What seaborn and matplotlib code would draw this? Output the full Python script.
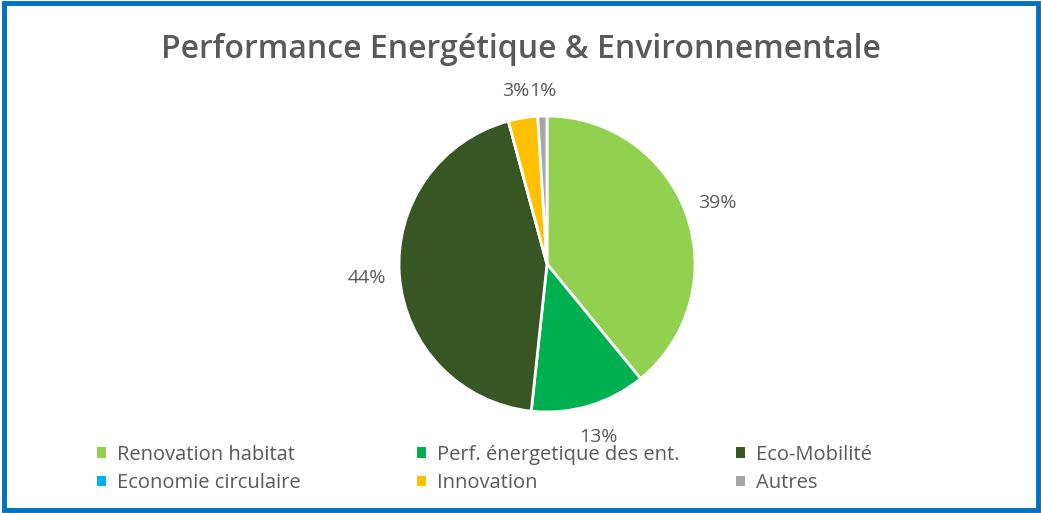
import numpy as np
import pandas as pd
import seaborn as sns
import matplotlib.pyplot as plt
from matplotlib.patches import Rectangle

categories = ["Renovation habitat", "Perf. énergetique des ent.", "Eco-Mobilité",
              "Economie circulaire", "Innovation", "Autres"]
shares = [39.1, 12.6, 44.1, 0.0, 3.2, 1.0]
pct_labels = ["39%", "13%", "44%", "", "3%", "1%"]
colors = ["#92D050", "#00B050", "#375623", "#00B0F0", "#FFC000", "#A6A6A6"]

sns.set_theme(style="white")
plt.rcParams['font.family'] = ['Open Sans', 'DejaVu Sans']

W, H = 1041, 513
fig = plt.figure(figsize=(W / 100, H / 100), dpi=100)

# blue frame around the chart
fig.patches.append(Rectangle((0.004, 0.006), 0.993, 0.988, transform=fig.transFigure,
                             fill=False, edgecolor="#0070C0", linewidth=3.5))

fig.text(521 / W, 1 - 50 / H, "Performance Energétique & Environnementale",
         ha="center", va="center", fontsize=23, fontweight="semibold", color="#595959")

# pie, centre and radius in pixels
cx, cy, R = 547, 264, 148
ax = fig.add_axes([(cx - R) / W, (H - cy - R) / H, 2 * R / W, 2 * R / H])
wedges, texts = ax.pie(shares, labels=pct_labels, colors=colors, startangle=90,
                       counterclock=False, labeldistance=1.22,
                       wedgeprops=dict(edgecolor="white", linewidth=2),
                       textprops=dict(fontsize=14, color="#595959"))
ax.set_xlim(-1, 1)
ax.set_ylim(-1, 1)

for t in texts:
    t.set_ha("center")
    t.set_va("center")

# the two small slices: labels sit side by side above the pie
x_mid = (texts[4].get_position()[0] + texts[5].get_position()[0]) / 2
for t, ha in [(texts[4], "right"), (texts[5], "left")]:
    t.set_ha(ha)
    t.set_position((x_mid, 1.17))

# legend, three columns of two rows
col_x = [97, 417, 736]
for c in range(3):
    idx = [c, c + 3]
    leg = fig.legend([wedges[i] for i in idx], [categories[i] for i in idx],
                     loc="center left", bbox_to_anchor=(col_x[c] / W, 1 - 469 / H),
                     frameon=False, fontsize=14.5, labelcolor="#595959",
                     handlelength=0.45, handleheight=0.45, handletextpad=0.55,
                     labelspacing=0.42, borderpad=0, borderaxespad=0)
    for h in leg.legend_handles:
        h.set_edgecolor("none")

fig.savefig("out.png", dpi=100)
